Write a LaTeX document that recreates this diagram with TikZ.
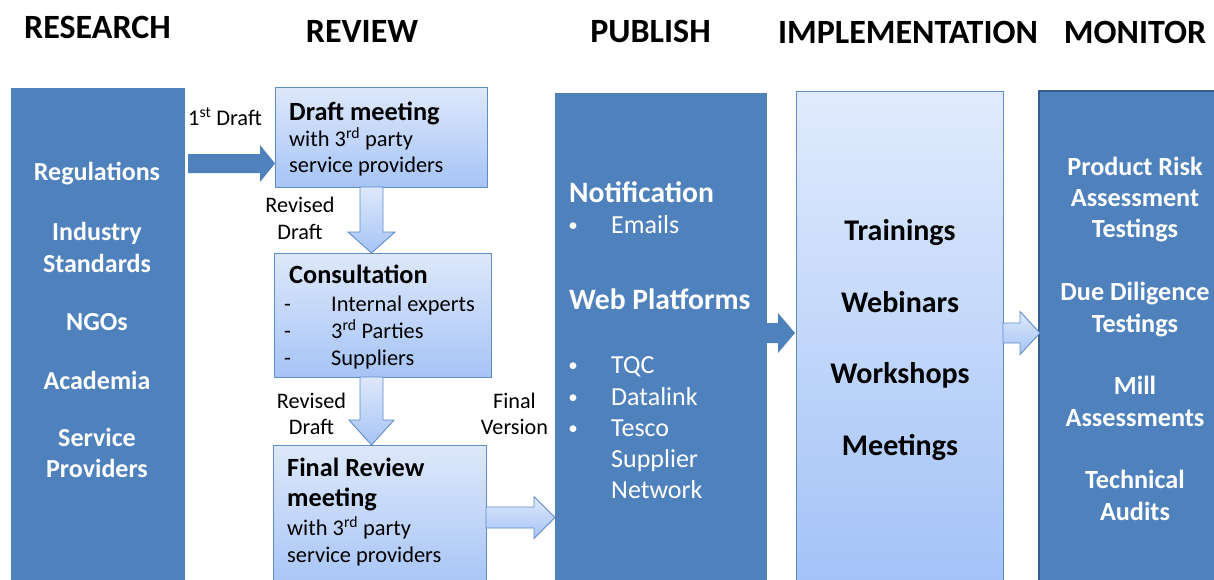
\documentclass[tikz,border=0pt]{standalone}
\usepackage{fontspec}
\setmainfont{Carlito}
\usetikzlibrary{calc}
\definecolor{dblue}{RGB}{79,129,189}
\definecolor{mborder}{RGB}{56,93,138}
\definecolor{gtop}{RGB}{222,232,251}
\definecolor{gbot}{RGB}{166,196,246}
\definecolor{itop}{RGB}{225,235,253}
\definecolor{ibot}{RGB}{162,194,247}
\definecolor{obord}{RGB}{96,140,200}
\newcommand\fs[2]{\fontsize{#1}{#2}\selectfont}
% horizontal block arrow: style, start, tip, half shaft, half head, head length
\newcommand\hArrow[6]{\path[#1] ($(#2)+(0,-#4)$) -- ($(#3)+(-#6,-#4)$) -- ($(#3)+(-#6,-#5)$) -- (#3) -- ($(#3)+(-#6,#5)$) -- ($(#3)+(-#6,#4)$) -- ($(#2)+(0,#4)$) -- cycle;}
% downward block arrow
\newcommand\vArrow[6]{\path[#1] ($(#2)+(-#4,0)$) -- ($(#3)+(-#4,-#6)$) -- ($(#3)+(-#5,-#6)$) -- (#3) -- ($(#3)+(#5,-#6)$) -- ($(#3)+(#4,-#6)$) -- ($(#2)+(#4,0)$) -- cycle;}
\begin{document}
\begin{tikzpicture}[x=1pt,y=-1pt,
  darkbox/.style={rectangle, fill=dblue, draw=none, inner sep=0pt, outer sep=0pt, anchor=north west},
  gradbox/.style={rectangle, draw=obord, line width=0.9pt, top color=gtop, bottom color=gbot, inner sep=0pt, outer sep=0pt, anchor=north west},
  title/.style={font=\fs{34}{40}\bfseries, inner sep=0pt, anchor=base},
  restxt/.style={font=\fs{26}{30}\bfseries, text=white, inner sep=0pt, anchor=base},
  bhead/.style={font=\fs{26.3}{30}\bfseries, inner sep=0pt, anchor=base west},
  btxt/.style={font=\fs{22.4}{26}, inner sep=0pt, anchor=base west},
  lbl/.style={font=\fs{22.2}{26}, inner sep=0pt, anchor=base},
  pubhead/.style={font=\fs{29.6}{34}\bfseries, text=white, inner sep=0pt, anchor=base west},
  pubtxt/.style={font=\fs{26}{30}, text=white, inner sep=0pt, anchor=base west},
  pubbul/.style={font=\fs{19}{22}, text=white, inner sep=0pt, anchor=base},
  imptxt/.style={font=\fs{30}{34}\bfseries, inner sep=0pt, anchor=base},
  montxt/.style={font=\fs{26.2}{31}\bfseries, text=white, inner sep=0pt, anchor=base},
  solidarrow/.style={fill=dblue},
  outarrow/.style={draw=obord, line width=0.9pt, top color=gtop, bottom color=gbot, line join=miter}
]
\useasboundingbox (0,0) rectangle (1214,579);
\clip (0,0) rectangle (1214,579);
\fill[white] (0,0) rectangle (1214,579);

% titles
\node[title] (t1) at (97.5,38) {RESEARCH};
\node[title] (t2) at (362,42) {REVIEW};
\node[title] (t3) at (650.5,42) {PUBLISH};
\node[title] (t4) at (908,43) {IMPLEMENTATION};
\node[title] (t5) at (1135,43) {MONITOR};

% columns
\node[darkbox, minimum width=174, minimum height=500] (res) at (11,88) {};
\node[darkbox, minimum width=212, minimum height=495] (pub) at (555,93) {};
\node[rectangle, draw=obord, line width=0.9pt, top color=itop, bottom color=ibot, inner sep=0pt, outer sep=0pt, anchor=north west, minimum width=207, minimum height=500] (imp) at (796,91) {};
\node[darkbox, draw=mborder, line width=1.2pt, minimum width=190, minimum height=500] (mon) at (1039,91) {};

% review boxes
\node[gradbox, minimum width=212, minimum height=100] (dm) at (275,87) {};
\node[gradbox, minimum width=217, minimum height=124] (cons) at (274,253) {};
\node[gradbox, minimum width=213, minimum height=145] (frm) at (273,445) {};

% research text
\foreach \t/\yy [count=\i] in {Regulations/180, Industry/240, Standards/272, NGOs/330, Academia/389, Service/446, Providers/477}
  \node[restxt] (r\i) at (97,\yy) {\t};

% draft meeting
\node[bhead] (dm1) at (289,120) {Draft meeting};
\node[btxt] (dm2) at (289,146) {with 3\textsuperscript{rd} party};
\node[btxt] (dm3) at (289,172) {service providers};

% consultation
\node[bhead] (c0) at (289,283) {Consultation};
\foreach \t/\yy [count=\i] in {Internal experts/311, 3\textsuperscript{rd} Parties/338, Suppliers/365}{
  \node[btxt] (cd\i) at (284,\yy) {-};
  \node[btxt] (ci\i) at (331,\yy) {\t};
}

% final review
\node[bhead] (f1) at (287,476) {Final Review};
\node[bhead] (f2) at (287,506) {meeting};
\node[btxt] (f3) at (287,535) {with 3\textsuperscript{rd} party};
\node[btxt] (f4) at (287,562) {service providers};

% labels
\node[btxt] (l1) at (188,125) {1\textsuperscript{st} Draft};
\node[lbl] (l2) at (300,212) {Revised};
\node[lbl] (l3) at (300,239) {Draft};
\node[lbl] (l4) at (311.5,408) {Revised};
\node[lbl] (l5) at (311.5,434) {Draft};
\node[lbl] (l6) at (514.5,408) {Final};
\node[lbl] (l7) at (514.5,434) {Version};

% publish text
\node[pubhead] (p1) at (569,202) {Notification};
\node[pubbul] (pb1) at (573,231) {•};
\node[pubtxt] (p2) at (611,233) {Emails};
\node[pubhead] (p3) at (569,309) {Web Platforms};
\foreach \t/\yy [count=\i] in {TQC/373, Datalink/405, Tesco/436}{
  \node[pubbul] (qb\i) at (573,\yy-2) {•};
  \node[pubtxt] (q\i) at (611,\yy) {\t};
}
\node[pubtxt] (q4) at (611,467) {Supplier};
\node[pubtxt] (q5) at (611,498) {Network};

% implementation text
\foreach \t/\yy [count=\i] in {Trainings/240, Webinars/312, Workshops/383, Meetings/455}
  \node[imptxt] (i\i) at (900,\yy) {\t};

% monitor text
\foreach \t/\yy [count=\i] in {Product Risk/175, Assessment/206, Testings/237, Due Diligence/300, Testings/332, Mill/394, Assessments/426, Technical/488, Audits/520}
  \node[montxt] (m\i) at (1135,\yy) {\t};

% connectors
\coordinate (a1t) at (dm.west |- 0,163.5);
\coordinate (a1s) at ($(res.east |- a1t)+(3,0)$);
\hArrow{solidarrow}{a1s}{a1t}{9.5}{18.5}{15}

\coordinate (a2s) at ($(dm.south)+(-9.5,0)$);
\coordinate (a2t) at (a2s |- cons.north);
\vArrow{outarrow}{a2s}{a2t}{11.5}{23.5}{21}

\coordinate (a3s) at (a2s |- cons.south);
\coordinate (a3t) at (a2s |- frm.north);
\vArrow{outarrow}{a3s}{a3t}{11.5}{22.5}{25}

\coordinate (a4s) at (frm.east |- 0,517.5);
\coordinate (a4t) at (pub.west |- a4s);
\hArrow{outarrow}{a4s}{a4t}{10.5}{21}{21}

\coordinate (a5s) at (pub.east |- 0,333);
\coordinate (a5t) at ($(imp.west |- a5s)+(-1,0)$);
\hArrow{solidarrow}{a5s}{a5t}{10}{20}{17}

\coordinate (a6s) at (imp.east |- 0,333);
\coordinate (a6t) at ($(mon.west |- a6s)+(1,0)$);
\hArrow{outarrow}{a6s}{a6t}{10}{21.5}{20}
\end{tikzpicture}
\end{document}
